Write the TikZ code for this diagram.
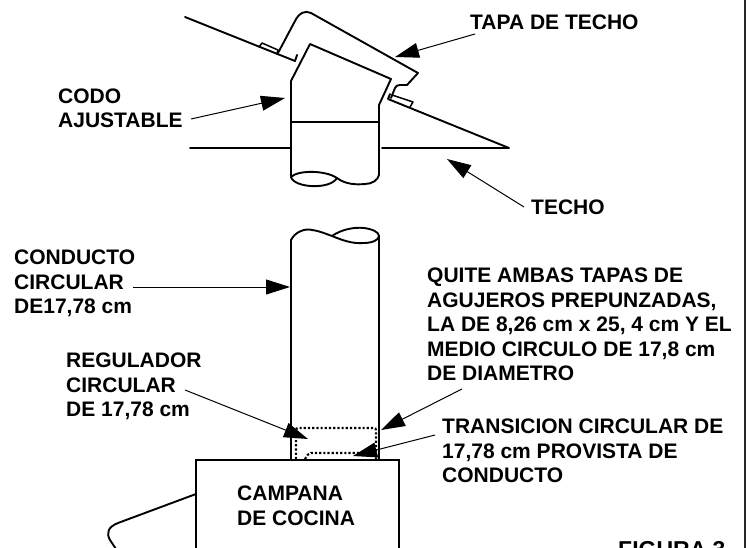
\documentclass[tikz,border=0pt]{standalone}
\usepackage{fontspec}
\setmainfont{Liberation Sans}
\usetikzlibrary{arrows.meta}
\tikzset{
  x=1pt,y=-1pt,
  lbl/.style={inner sep=0pt,align=left,font=\fontsize{21}{24.4}\selectfont\bfseries,anchor=north west,text=black},
  ln/.style={line width=1.9pt,line join=round,line cap=round},
  thin line/.style={line width=1.5pt,line join=round,line cap=round},
  ptr/.style={line width=1pt,-{Triangle[length=24pt,width=15pt]}},
  dots/.style={line width=2.2pt,dash pattern=on 2.2pt off 2pt,rounded corners=2pt},
}
\begin{document}
\begin{tikzpicture}
\useasboundingbox (0,0) rectangle (747,548);
\clip (0,0) rectangle (747,548);
% roof upper
\draw[ln] (185,17) -- (295,61) -- (297,55);
\draw[thin line] (259,47) -- (262,43) -- (278,50) -- (277,54);
% cap
\draw[ln] (278,53) -- (295,21) .. controls (299,13) and (305,10) .. (311,13) -- (418,73) -- (407,85) -- (400,85) .. controls (397,85) and (396,86) .. (395,88) -- (391,98);
\draw[thin line] (392,95) -- (413,102) -- (410,107);
% lower roof
\draw[ln] (390,94) -- (388,99) -- (509,148) -- (382,148);
\draw[ln] (290,148) -- (190,148);
% elbow
\draw[ln] (291,176) -- (291,81) -- (310,44) -- (391,79) -- (379,105) -- (379,175);
\draw[ln] (291,122) -- (379,122);
\draw[ln] (291,177) .. controls (298,170) and (325,170) .. (337,178)
  .. controls (345,184) and (355,185) .. (365,184) .. controls (372,184) and (378,180) .. (379,175);
\draw[ln] (291,177) .. controls (294,188) and (330,190) .. (337,178);
% lower pipe
\draw[ln] (291,460) -- (291,240) .. controls (295,232) and (305,228) .. (312,230)
  .. controls (320,231) and (326,234) .. (332,236) .. controls (342,240) and (352,244) .. (364,243)
  .. controls (372,243) and (379,240) .. (379,236) -- (379,460);
\draw[ln] (332,236) .. controls (342,229) and (355,227) .. (364,228) .. controls (372,229) and (379,232) .. (379,236);
% dotted
\draw[dots] (296,459) -- (296,428) -- (376,428) -- (376,459);
\draw[dots] (305,459) -- (309,453) -- (372,453);
% hood
\draw[line width=1.5pt] (196,549) -- (196,460) -- (399,460) -- (399,549);
\draw[ln] (196,494) -- (118,523) .. controls (108,527) and (106,533) .. (110,540) -- (116,549);
% frame
\draw[line width=2pt,black!85] (745,0) -- (745,548);
% labels
\node[lbl] (tapa) at (470,14.5) {TAPA DE TECHO};
\node[lbl] (codo) at (58,88.5) {CODO\\AJUSTABLE};
\node[lbl] (techo) at (531,200) {TECHO};
\node[lbl] (cond) at (14,250) {CONDUCTO\\CIRCULAR\\DE17,78 cm};
\node[lbl] (quite) at (427,268) {QUITE AMBAS TAPAS DE\\AGUJEROS PREPUNZADAS,\\LA DE 8,26 cm x 25, 4 cm Y EL\\MEDIO CIRCULO DE 17,8 cm\\DE DIAMETRO};
\node[lbl] (reg) at (66,353) {REGULADOR\\CIRCULAR\\DE 17,78 cm};
\node[lbl] (trans) at (442,419) {TRANSICION CIRCULAR DE\\17,78 cm PROVISTA DE\\CONDUCTO};
\node[lbl] (camp) at (237,486) {CAMPANA\\DE COCINA};
\node[lbl,font=\fontsize{23}{24}\selectfont\bfseries] (fig) at (618,541) {FIGURA 3};
% pointers
\coordinate (a1) at (475,34); \coordinate (a2) at (395,57);
\coordinate (b1) at (191,119); \coordinate (b2) at (285,98);
\coordinate (c1) at (524,207); \coordinate (c2) at (447,159);
\coordinate (d1) at (133,287); \coordinate (d2) at (290,287);
\coordinate (e1) at (185,390); \coordinate (e2) at (308,439);
\coordinate (f1) at (462,389); \coordinate (f2) at (381,430);
\coordinate (g1) at (435,435); \coordinate (g2) at (353,456);
\foreach \p/\q in {a1/a2,b1/b2,c1/c2,d1/d2,e1/e2,f1/f2,g1/g2} \draw[ptr] (\p) -- (\q);
\end{tikzpicture}
\end{document}
